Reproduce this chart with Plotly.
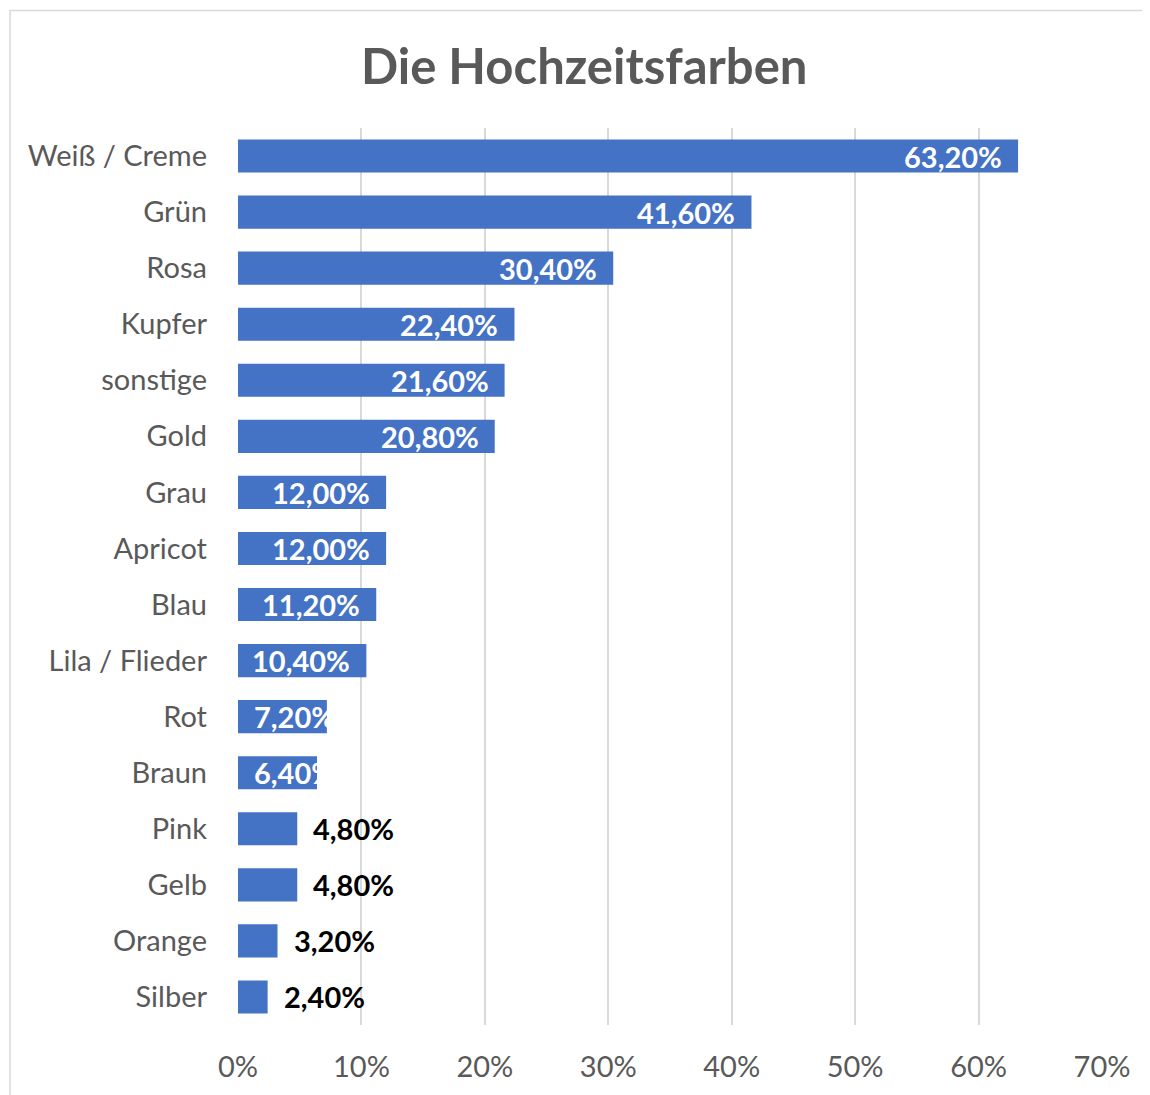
import plotly.graph_objects as go

categories = ["Weiß / Creme", "Grün", "Rosa", "Kupfer", "sonstige", "Gold", "Grau",
              "Apricot", "Blau", "Lila / Flieder", "Rot", "Braun", "Pink", "Gelb",
              "Orange", "Silber"]
values = [63.2, 41.6, 30.4, 22.4, 21.6, 20.8, 12.0, 12.0, 11.2, 10.4, 7.2, 6.4,
          4.8, 4.8, 3.2, 2.4]
tick_vals = [0, 10, 20, 30, 40, 50, 60, 70]
tick_text = ["0%", "10%", "20%", "30%", "40%", "50%", "60%", "70%"]
title_text = "Die Hochzeitsfarben"

FONT = "Lato"
GRAY = "#595959"
BAR = "#4472c4"

# page body adds 8px margin; compensate
OFF = 8
W, H = 1150 - OFF, 1095 - OFF
L, T = 238 - OFF, 128 - OFF
R = W - (1102 - OFF)
B = H - (1028 - OFF)
pw, ph = W - L - R, H - T - B

def px_to_paper_x(px):
    return (px - OFF - L) / pw

def px_to_paper_y(py):
    return (H - B - (py - OFF)) / ph

def fmt(v):
    return f"{v:.2f}".replace(".", ",") + "%"

fig = go.Figure(go.Bar(
    x=values, y=categories, orientation="h",
    marker=dict(color=BAR, line=dict(width=0)),
    width=0.59,
    hoverinfo="skip",
))

LBL = 29
annotations = []
for c, v in zip(categories, values):
    t = fmt(v)
    if v >= 10:
        annotations.append(dict(x=v, y=c, xref="x", yref="y", text=f"<b>{t}</b>",
                                showarrow=False, xanchor="right", xshift=-14,
                                font=dict(family=FONT, size=LBL, color="white")))
    elif v >= 6:
        annotations.append(dict(x=0, y=c, xref="x", yref="y", text=f"<b>{t}</b>",
                                showarrow=False, xanchor="left", xshift=14,
                                font=dict(family=FONT, size=LBL, color="white")))
    else:
        annotations.append(dict(x=v, y=c, xref="x", yref="y", text=f"<b>{t}</b>",
                                showarrow=False, xanchor="left", xshift=14,
                                font=dict(family=FONT, size=LBL, color="black")))

annotations.append(dict(x=px_to_paper_x(584), y=px_to_paper_y(65), xref="paper", yref="paper",
                        xanchor="center", yanchor="middle",
                        text=f"<b>{title_text}</b>",
                        showarrow=False, font=dict(family=FONT, size=49, color=GRAY)))

fig.update_layout(
    width=W, height=H,
    margin=dict(l=L, r=R, t=T, b=B, pad=0),
    plot_bgcolor="white", paper_bgcolor="white",
    showlegend=False,
    annotations=annotations,
    font=dict(family=FONT, color=GRAY),
    xaxis=dict(range=[0, 70], tickvals=tick_vals, ticktext=tick_text,
               showgrid=True, gridcolor="#d9d9d9", gridwidth=1.5,
               zeroline=False, showline=False, ticks="", ticklabelstandoff=22,
               tickfont=dict(family=FONT, size=29, color=GRAY), fixedrange=True),
    yaxis=dict(autorange="reversed", showgrid=False, zeroline=False, showline=False,
               ticks="", ticklabelstandoff=30,
               tickfont=dict(family=FONT, size=29, color=GRAY), fixedrange=True),
    shapes=[dict(type="rect", xref="paper", yref="paper",
                 x0=px_to_paper_x(10), x1=px_to_paper_x(1170),
                 y0=px_to_paper_y(1120), y1=px_to_paper_y(10),
                 line=dict(color="#d9d9d9", width=1.5), layer="below")],
)

fig.write_html("out.html")
